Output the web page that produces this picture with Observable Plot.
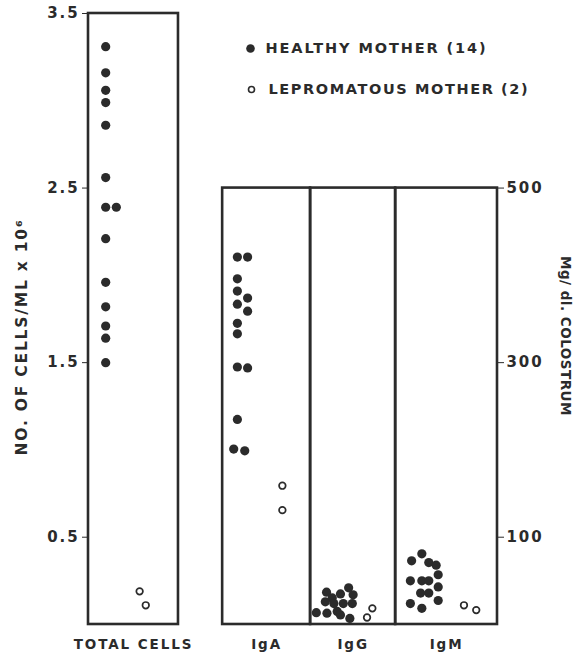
<!DOCTYPE html>
<html>
<head>
<meta charset="utf-8">
<script src="https://cdn.jsdelivr.net/npm/d3@7"></script>
<script src="https://cdn.jsdelivr.net/npm/@observablehq/plot@0.6"></script>
<style>
  html, body { margin: 0; padding: 0; background: #fff; }
  .chart text { letter-spacing: 1.9px; }
  .chart .ylab text { letter-spacing: 1.8px; }
  .chart .rlab text { letter-spacing: 0.5px; }
  .chart .leg2 text { letter-spacing: 1.6px; }
</style>
</head>
<body>
<div id="chart"></div>
<script>
// ---- data ----
const panelNames = ["TOTAL CELLS", "IgA", "IgG", "IgM"];
const panelTop = [3.5, 2.5, 2.5, 2.5];              // in cells x10^6 units (2.5 = 500 mg/dl)
const mgPerUnit = 200;                               // right axis: 500 mg/dl ↔ 2.5
const leftTicks = [0.5, 1.5, 2.5, 3.5];
const rightTicks = [100, 300, 500];
const legendLabels = ["HEALTHY MOTHER (14)", "LEPROMATOUS MOTHER (2)"];

// TOTAL CELLS (no. of cells/ml x 10^6)
const totalHealthy = [3.31, 3.16, 3.06, 2.99, 2.86, 2.56, 2.39, 2.39, 2.21, 1.96, 1.82, 1.71, 1.64, 1.50];
const totalLeprom = [0.19, 0.11];
// Immunoglobulins (mg/dl colostrum)
const igaHealthy = [421, 421, 396, 382, 374, 367, 359, 345, 333, 295, 294, 235, 201, 199];
const igaLeprom = [159, 131];
const iggHealthy = [42, 37, 35, 34, 30.5, 26, 24, 24, 24, 15, 13.6, 13, 11, 7];
const iggLeprom = [18.5, 8];
const igmHealthy = [81, 73, 71, 68, 57, 50, 50, 50, 43, 36, 36, 27.5, 24, 18.5];
const igmLeprom = [22, 16.5];

// ---- layout (horizontal placement of panels and of the scattered dots) ----
const panelEdges = [[0, 22], [32.8, 54.3], [54.3, 75.1], [75.1, 100]];
const totalHealthyX = [4.2, 4.2, 4.2, 4.2, 4.2, 4.2, 4.2, 6.8, 4.2, 4.2, 4.2, 4.2, 4.2, 4.2];
const totalLepromX = [12.5, 14.0];
const igaHealthyX = [36.4, 38.9, 36.4, 36.4, 38.9, 36.4, 38.9, 36.4, 36.4, 36.4, 38.9, 36.4, 35.5, 38.2];
const igaLepromX = [47.4, 47.4];
const iggHealthyX = [63.6, 58.2, 61.6, 64.7, 59.6, 57.9, 60.0, 62.3, 64.5, 60.8, 55.7, 58.3, 61.6, 63.9];
const iggLepromX = [69.4, 68.1];
const igmHealthyX = [81.5, 79.0, 83.2, 85.0, 85.5, 78.7, 81.5, 83.2, 85.5, 81.2, 83.2, 85.5, 78.7, 81.5];
const igmLepromX = [91.8, 94.8];

// ---- build tables ----
const panels = panelNames.map((name, i) => ({
  name, top: panelTop[i], x1: panelEdges[i][0], x2: panelEdges[i][1],
  mid: (panelEdges[i][0] + panelEdges[i][1]) / 2
}));
function rows(vals, xs, scale) { return vals.map((v, i) => ({ x: xs[i], y: v / scale })); }
const healthy = [
  ...rows(totalHealthy, totalHealthyX, 1),
  ...rows(igaHealthy, igaHealthyX, mgPerUnit),
  ...rows(iggHealthy, iggHealthyX, mgPerUnit),
  ...rows(igmHealthy, igmHealthyX, mgPerUnit)
];
const leprom = [
  ...rows(totalLeprom, totalLepromX, 1),
  ...rows(igaLeprom, igaLepromX, mgPerUnit),
  ...rows(iggLeprom, iggLepromX, mgPerUnit),
  ...rows(igmLeprom, igmLepromX, mgPerUnit)
];

const ink = "#2b2b2b";
const chart = Plot.plot({
  width: 582,
  height: 658,
  marginLeft: 88,
  marginRight: 85,
  marginTop: 13,
  marginBottom: 34,
  className: "chart",
  style: { fontFamily: "DejaVu Sans", fontSize: "15px", fontWeight: "bold", color: ink, background: "#fff" },
  x: { domain: [0, 100], axis: null },
  y: { domain: [0, 3.5], axis: null },
  marks: [
    Plot.rect(panels, { x1: "x1", x2: "x2", y1: 0, y2: "top", fill: "none", stroke: ink, strokeWidth: 2.6 }),
    Plot.axisY({ anchor: "left", ticks: leftTicks, tickFormat: d => d.toFixed(1), tickSize: 6, tickPadding: 3, tickWidth: 2, label: null, fontSize: 15 }),
    Plot.axisY({ anchor: "right", ticks: rightTicks.map(v => v / mgPerUnit), tickFormat: d => String(Math.round(d * mgPerUnit)), tickSize: 6, tickPadding: 3, label: null, fontSize: 15 }),
    Plot.dot(healthy, { x: "x", y: "y", r: 4.6, fill: ink, stroke: "none" }),
    Plot.dot(leprom, { x: "x", y: "y", r: 3.3, fill: "white", stroke: ink, strokeWidth: 1.7 }),
    Plot.text(panels, { x: "mid", text: "name", frameAnchor: "bottom", dy: 20, lineAnchor: "middle", fontSize: 13.5, fill: ink }),
    Plot.text(["NO. OF CELLS/ML x 10⁶"], { frameAnchor: "left", textAnchor: "middle", dx: -66, dy: 18, rotate: -90, fontSize: 15.5, fill: ink, className: "ylab" }),
    Plot.text(["Mg/ dl. COLOSTRUM"], { frameAnchor: "right", textAnchor: "middle", dx: 68, dy: 17, rotate: 90, fontSize: 13.5, fill: ink, className: "rlab" }),
    Plot.dot([legendLabels[0]], { frameAnchor: "top-left", dx: 162, dy: 35, r: 4.3, fill: ink }),
    Plot.text([legendLabels[0]], { frameAnchor: "top-left", dx: 177, dy: 35, textAnchor: "start", lineAnchor: "middle", fontSize: 14.5, fill: ink }),
    Plot.dot([legendLabels[1]], { frameAnchor: "top-left", dx: 163, dy: 76, r: 3, fill: "white", stroke: ink, strokeWidth: 1.6 }),
    Plot.text([legendLabels[1]], { frameAnchor: "top-left", dx: 180, dy: 76, textAnchor: "start", lineAnchor: "middle", fontSize: 14.5, fill: ink, className: "leg2" })
  ]
});
document.getElementById("chart").appendChild(chart);
</script>
</body>
</html>
